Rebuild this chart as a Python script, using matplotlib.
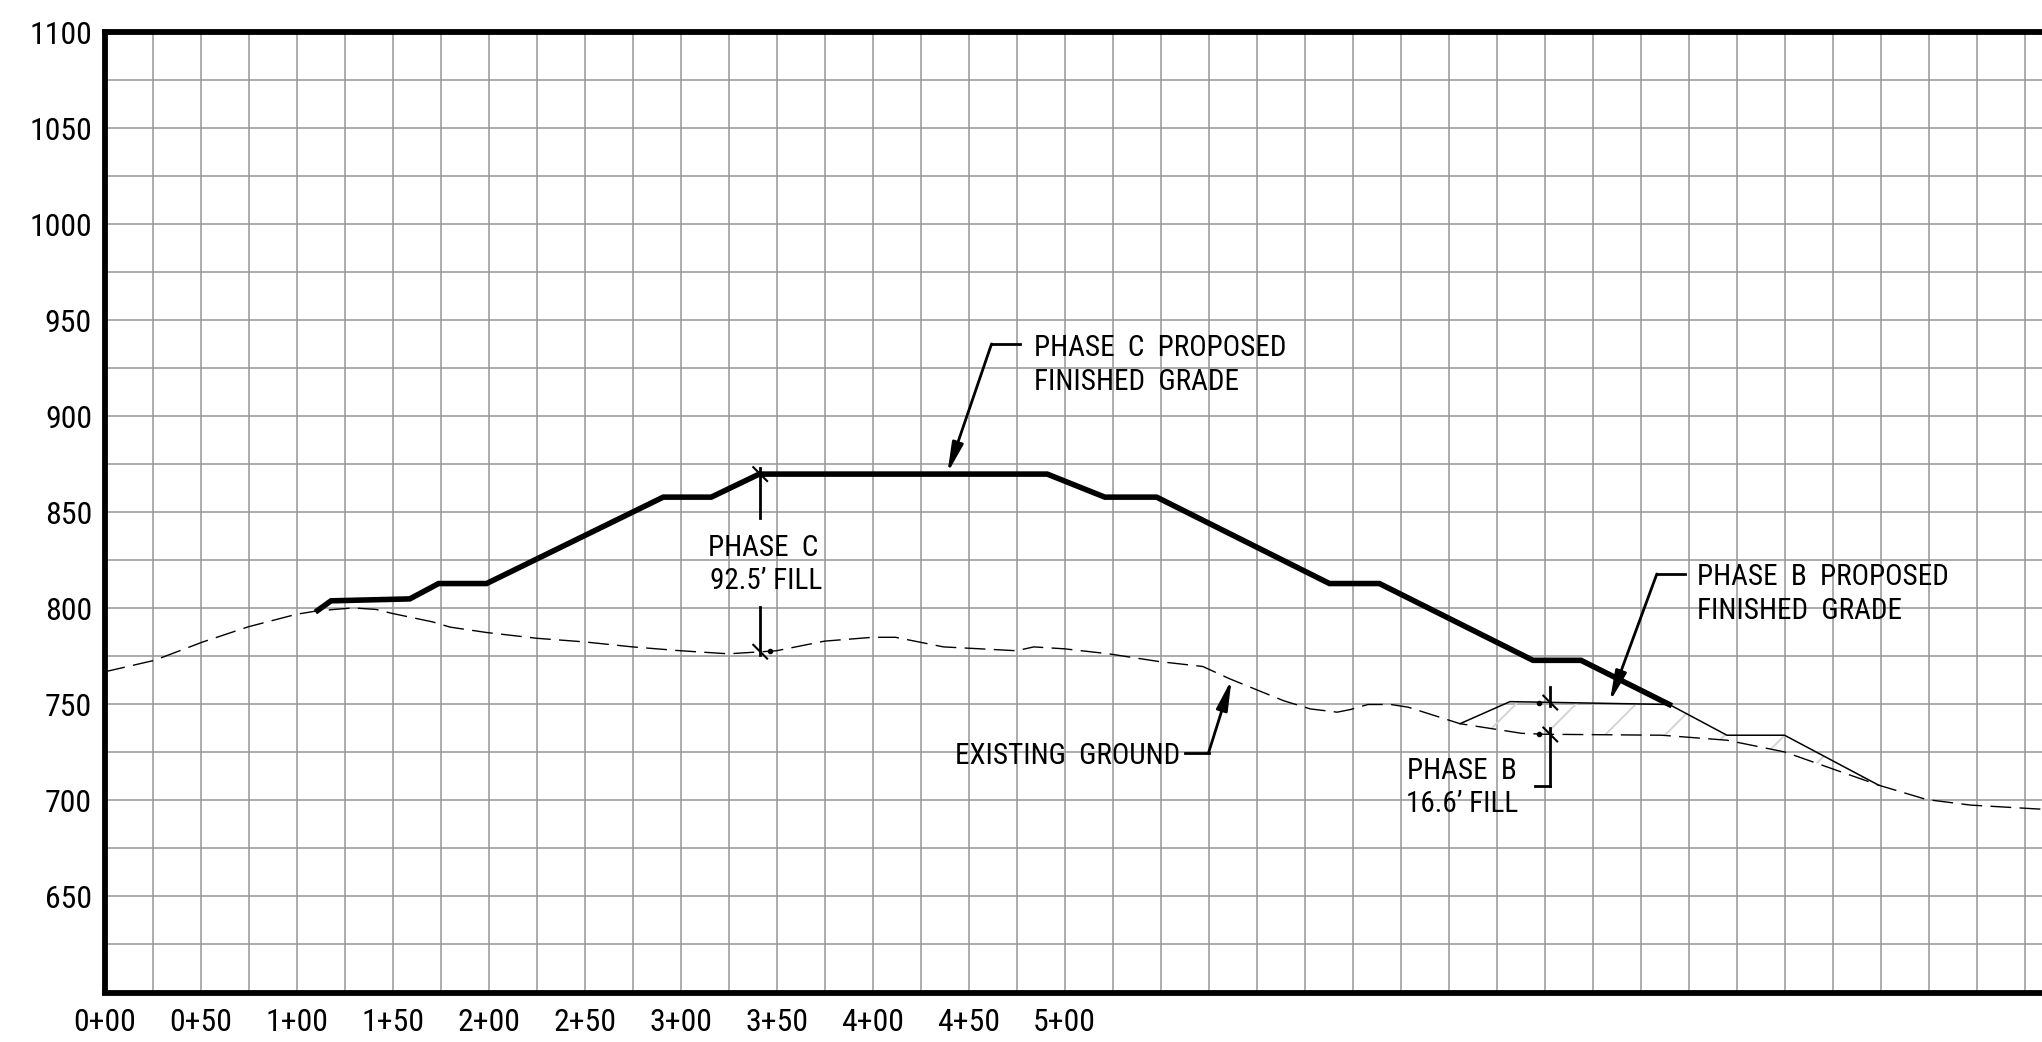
import os
import matplotlib
matplotlib.use("Agg")
import matplotlib.pyplot as plt
from matplotlib import font_manager as fm
from matplotlib.ticker import FixedLocator, MultipleLocator

# ---------------- data ----------------
station_ticks = [0, 50, 100, 150, 200, 250, 300, 350, 400, 450, 500]
station_labels = ["0+00", "0+50", "1+00", "1+50", "2+00", "2+50",
                  "3+00", "3+50", "4+00", "4+50", "5+00"]
elev_ticks = [650, 700, 750, 800, 850, 900, 950, 1000, 1050, 1100]
elev_labels = ["650", "700", "750", "800", "850", "900", "950", "1000", "1050", "1100"]

existing_x = [0, 26, 51, 75, 100, 111, 129.5, 141.5, 150, 171, 180, 199, 225, 250,
              275, 300, 325, 341, 350, 375, 400, 412, 437, 475, 484, 500, 523,
              549, 572, 586, 614, 628, 642, 649, 658, 670, 679, 706, 738, 750,
              811, 845, 875, 924, 949, 972, 1010]
existing_y = [767, 773, 782.5, 790.5, 797, 798.8, 800.3, 799.5, 797.4, 793, 790.3,
              787.5, 784.5, 782.6, 780, 778, 776.4, 777.4, 778, 783, 785, 785,
              780, 778, 780, 779, 776.4, 772.4, 769.8, 763.4, 752, 747.7, 746,
              747.4, 750, 750, 748.6, 740, 735, 734.5, 734, 731.4, 725.3, 708,
              700.5, 697.6, 695.4]

phase_c_x = [111, 118, 159, 174, 199, 291, 316, 341, 491, 521, 548, 638, 664,
             744, 769, 815]
phase_c_y = [799, 804, 805, 813, 813, 858, 858, 870, 870, 858, 858, 813, 813,
             773, 773, 750]

phase_b_x = [706, 732, 815, 845, 875, 924]
phase_b_y = [740, 751.5, 750, 734, 734, 708]

phase_c_fill = 92.5
phase_b_fill = 16.6


# ---------------- font: look for a narrow sans face ----------------
def find_narrow():
    prefs = ["liberation sans narrow", "dejavu sans condensed", "noto sans",
             "roboto condensed", "open sans condensed", "open sans", "roboto"]
    found = {}
    for f in fm.fontManager.ttflist:
        name = f.name.lower()
        fn = os.path.basename(f.fname).lower()
        st = f.stretch
        is_cond = ("narrow" in name or "condensed" in name or "narrow" in fn
                   or "condensed" in fn
                   or (isinstance(st, str) and "condensed" in st)
                   or (isinstance(st, (int, float)) and st < 500))
        if not is_cond:
            continue
        if "mono" in name or "italic" in fn or "oblique" in fn or f.style != "normal":
            continue
        if "bold" in fn or "black" in fn or "light" in fn or "thin" in fn \
                or "medium" in fn or "semi" in fn or "extra" in fn:
            continue
        if "serif" in name.replace("sans", "") and "sans" not in name:
            continue
        found.setdefault(name, f.fname)
    for p in prefs:
        for n, path in found.items():
            if n.startswith(p):
                return path
    for n, path in found.items():
        if "sans" in n:
            return path
    return None


narrow_path = find_narrow()
if narrow_path:
    fm.fontManager.addfont(narrow_path)
    FP = fm.FontProperties(fname=narrow_path)
    NARROW = True
else:
    FP = fm.FontProperties(family=["Liberation Sans", "DejaVu Sans"])
    NARROW = False

# ---------------- style ----------------
DPI = 180
S = 100.0 / DPI          # sizes below are written for a 100-dpi canvas
plt.rcParams["font.family"] = ["Liberation Sans", "DejaVu Sans"]
plt.rcParams["hatch.linewidth"] = 1.3 * S

fig = plt.figure(figsize=(2042 / DPI, 1042 / DPI), dpi=DPI)
ax = fig.add_axes([104.5 / 2042, 1 - 992.5 / 1042, (2042 - 104.5) / 2042, 960 / 1042])
ax.set_xlim(0, 1009.1)
ax.set_ylim(600, 1100)

TS = (21 if NARROW else 18.5) * S  # annotation text size
XS = (23 if NARROW else 19) * S    # station label size

# grid
ax.xaxis.set_major_locator(FixedLocator(station_ticks))
ax.xaxis.set_minor_locator(MultipleLocator(25))
ax.yaxis.set_major_locator(FixedLocator(elev_ticks))
ax.yaxis.set_minor_locator(MultipleLocator(25))
ax.set_xticklabels(station_labels, fontproperties=FP, fontsize=XS)
ax.set_yticklabels(elev_labels, fontproperties=FP, fontsize=(23 if NARROW else 18.5) * S)
ax.grid(which="both", color="#9a9a9a", lw=1.15 * S, zorder=0)
ax.set_axisbelow(True)
ax.tick_params(which="both", length=0)
ax.tick_params(axis="x", pad=11 * S)
ax.tick_params(axis="y", pad=9 * S)

for side in ["left", "top", "bottom"]:
    ax.spines[side].set_linewidth(4.2 * S)
    ax.spines[side].set_color("black")
ax.spines["right"].set_visible(False)

# hatched fill between phase B grade and existing ground
hx = list(phase_b_x) + [x for x in existing_x if phase_b_x[0] < x < phase_b_x[-1]][::-1]
hy = list(phase_b_y) + [y for x, y in zip(existing_x, existing_y)
                        if phase_b_x[0] < x < phase_b_x[-1]][::-1]
ax.fill(hx, hy, facecolor="none", edgecolor="#d2d2d2", hatch="/", lw=0, zorder=1)

# lines
ax.plot(existing_x, existing_y, color="black", lw=1.0 * S, ls=(0, (15, 6)), zorder=3)
ax.plot(phase_b_x, phase_b_y, color="black", lw=1.1 * S, zorder=3)
ax.plot(phase_c_x, phase_c_y, color="black", lw=4.0 * S, zorder=4,
        solid_joinstyle="miter")

LW = 2.0 * S


def label(x, y, s, ha):
    ax.text(x, y, s, ha=ha, va="baseline", fontproperties=FP, fontsize=TS,
            color="black", zorder=6)


def leader(tip, elbow, end):
    ax.plot([end[0], elbow[0]], [end[1], elbow[1]], color="black", lw=LW, zorder=5)
    ax.annotate("", xy=tip, xytext=elbow,
                arrowprops=dict(arrowstyle="-|>,head_length=0.9,head_width=0.17",
                                color="black", lw=LW, shrinkA=0, shrinkB=0,
                                mutation_scale=20 * S), zorder=5)


def tick(x, y):
    ax.plot([x - 3.6, x + 3.6], [y + 3.6, y - 3.6], color="black", lw=1.5 * S, zorder=5)


# Phase C proposed finished grade label
leader((439, 870.5), (462, 937.8), (477, 937.8))
label(484, 931.3, "PHASE  C  PROPOSED", "left")
label(484, 913.6, "FINISHED  GRADE", "left")

# Phase B proposed finished grade label
leader((784, 751.5), (808.5, 818), (823, 818))
label(829.5, 812.2, "PHASE  B  PROPOSED", "left")
label(829.5, 794.5, "FINISHED  GRADE", "left")

# Existing ground label
leader((587, 763), (575, 724.8), (563, 724.8))
label(560.5, 719.2, "EXISTING  GROUND", "right")

# Phase C fill dimension
cx, ctop = 341.5, 870
cbot = ctop - phase_c_fill
ax.plot([cx, cx], [ctop + 3, 847], color="black", lw=LW, zorder=5)
ax.plot([cx, cx], [801, cbot - 1.5], color="black", lw=LW, zorder=5)
tick(cx, ctop)
tick(cx, cbot)
ax.plot([cx + 5], [cbot + 0.5], "o", color="black", ms=2.2 * S, zorder=5)
label(343, 827.6, "PHASE  C", "center")
label(344.5, 810, f"{phase_c_fill}’ FILL", "center")

# Phase B fill dimension
bx, btop = 753, 751
bbot = btop - phase_b_fill
ax.plot([bx, bx], [btop + 8, btop - 2], color="black", lw=LW, zorder=5)
ax.plot([bx, bx], [bbot + 3.5, 707.5], color="black", lw=LW, zorder=5)
ax.plot([bx, 745], [707.5, 707.5], color="black", lw=LW, zorder=5)
tick(bx, btop)
tick(bx, bbot)
ax.plot([bx - 6, bx - 6], [btop, bbot], "o", color="black", ms=2.2 * S, zorder=5)
label(707, 711, "PHASE  B", "center")
label(707, 694, f"{phase_b_fill}’ FILL", "center")

fig.savefig("out.png", dpi=DPI)
